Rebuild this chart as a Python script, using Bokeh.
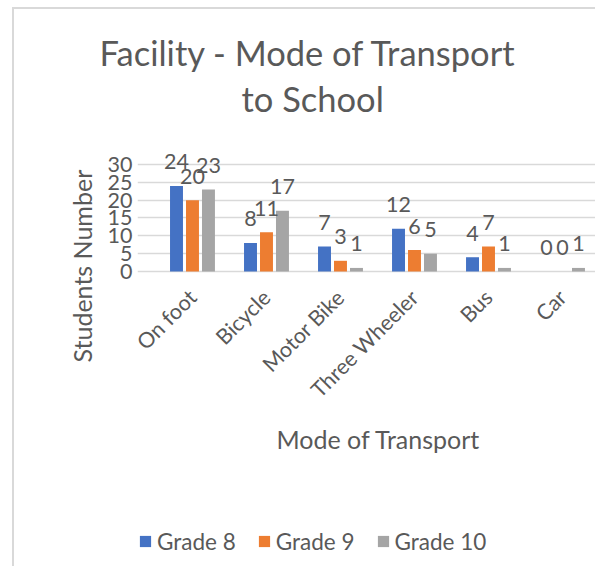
import math
from bokeh.plotting import figure
from bokeh.models import (ColumnDataSource, Range1d, FixedTicker, LabelSet, Label, Title,
                          Legend, LegendItem, CustomJSTickFormatter)
from bokeh.transform import dodge
from bokeh.core.properties import value
from bokeh.embed import file_html
from bokeh.resources import INLINE

# ---- data ----
categories = ["On foot", "Bicycle", "Motor Bike", "Three Wheeler", "Bus", "Car"]
grade8 = [24, 8, 7, 12, 4, 0]
grade9 = [20, 11, 3, 6, 7, 0]
grade10 = [23, 17, 1, 5, 1, 1]
series_names = ["Grade 8", "Grade 9", "Grade 10"]
y_ticks = [0, 5, 10, 15, 20, 25, 30]
title_lines = ["Facility - Mode of Transport", "to School"]
x_title = "Mode of Transport"
y_title = "Students Number"

# ---- style ----
colors = ["#4472C4", "#ED7D31", "#A5A5A5"]
TXT = "#595959"
FONT = "Lato"
offsets = [-0.216, 0.0, 0.216]
bar_w = 0.175

src = ColumnDataSource(dict(
    x=list(range(len(categories))),
    g8=grade8, g9=grade9, g10=grade10,
    t8=[str(v) for v in grade8], t9=[str(v) for v in grade9], t10=[str(v) for v in grade10],
))

p = figure(width=583, height=559, output_backend="svg", toolbar_location=None, title=None,
           x_range=Range1d(-0.743, 5.473), y_range=Range1d(-83.26, 41.77),
           min_border_left=123, min_border_right=0, min_border_top=113, min_border_bottom=0)
p.outline_line_color = None
p.background_fill_color = "white"
p.border_fill_color = "white"
p.styles = {"border-left": "2px solid #D9D9D9", "border-top": "2px solid #D9D9D9",
            "margin-left": "12px", "margin-top": "7px"}

# x axis sits at value 0 inside the plot area
p.xaxis.fixed_location = 0
p.xaxis.ticker = FixedTicker(ticks=list(range(len(categories))))
p.xaxis.formatter = CustomJSTickFormatter(args=dict(labels=categories),
                                          code="return labels[Math.round(tick)] || ''")
p.xaxis.major_label_orientation = math.pi / 4
p.xaxis.major_label_text_font_size = "21.5px"
p.xaxis.major_label_text_color = TXT
p.xaxis.major_label_text_font = FONT
p.xaxis.major_label_standoff = 22
p.xaxis.axis_line_color = None
p.xaxis.major_tick_line_color = None
p.xaxis.minor_tick_line_color = None
p.xaxis.major_tick_out = 0

p.yaxis.ticker = FixedTicker(ticks=y_ticks)
p.yaxis.major_label_text_font_size = "21.5px"
p.yaxis.major_label_text_color = TXT
p.yaxis.major_label_text_font = FONT
p.yaxis.major_label_standoff = 5
p.yaxis.axis_line_color = None
p.yaxis.major_tick_line_color = None
p.yaxis.minor_tick_line_color = None
p.yaxis.major_tick_out = 0

p.xgrid.grid_line_color = None
p.ygrid.ticker = FixedTicker(ticks=y_ticks)
p.ygrid.grid_line_color = "#D9D9D9"
p.ygrid.grid_line_width = 1.5

# bars + labels
renderers = []
for col, tcol, off, c in zip(["g8", "g9", "g10"], ["t8", "t9", "t10"], offsets, colors):
    r = p.vbar(x=dodge("x", off, range=p.x_range), top=col, width=bar_w, source=src,
               fill_color=c, line_color=None)
    renderers.append(r)
    p.add_layout(LabelSet(x=dodge("x", off, range=p.x_range), y=col, text=tcol, source=src,
                          y_offset=24, text_align="center", text_baseline="middle",
                          text_font=value(FONT), text_font_size="21.5px", text_color=TXT))

# x-axis title
p.add_layout(Label(x=241, y=130, x_units="screen", y_units="screen", text=x_title,
                   text_align="center", text_baseline="middle", text_font=FONT,
                   text_font_size="25px", text_color=TXT))

# y-axis title (left panel)
p.add_layout(Title(text=y_title, align="left", offset=206, standoff=16,
                   text_font=FONT, text_font_size="25px", text_font_style="normal",
                   text_color=TXT), "left")

# chart title (two lines, above panel; first added is nearest the plot)
p.add_layout(Title(text=title_lines[1], align="left", offset=104, standoff=7,
                   text_font=FONT, text_font_size="34.5px", text_font_style="normal",
                   text_color=TXT), "above")
p.add_layout(Title(text=title_lines[0], align="left", offset=-38, standoff=0,
                   text_font=FONT, text_font_size="34.5px", text_font_style="normal",
                   text_color=TXT), "above")

# legend (inside the plot area, under the axis title)
legend = Legend(items=[LegendItem(label=n, renderers=[r]) for n, r in zip(series_names, renderers)],
                orientation="horizontal", location=(1, 13.5),
                glyph_width=14, glyph_height=14, label_standoff=5, spacing=21,
                padding=0, margin=0, border_line_color=None, background_fill_alpha=0,
                label_text_font_size="22.5px", label_text_color=TXT, label_text_font=FONT)
p.add_layout(legend, "center")

open("out.html", "w").write(file_html(p, INLINE))
